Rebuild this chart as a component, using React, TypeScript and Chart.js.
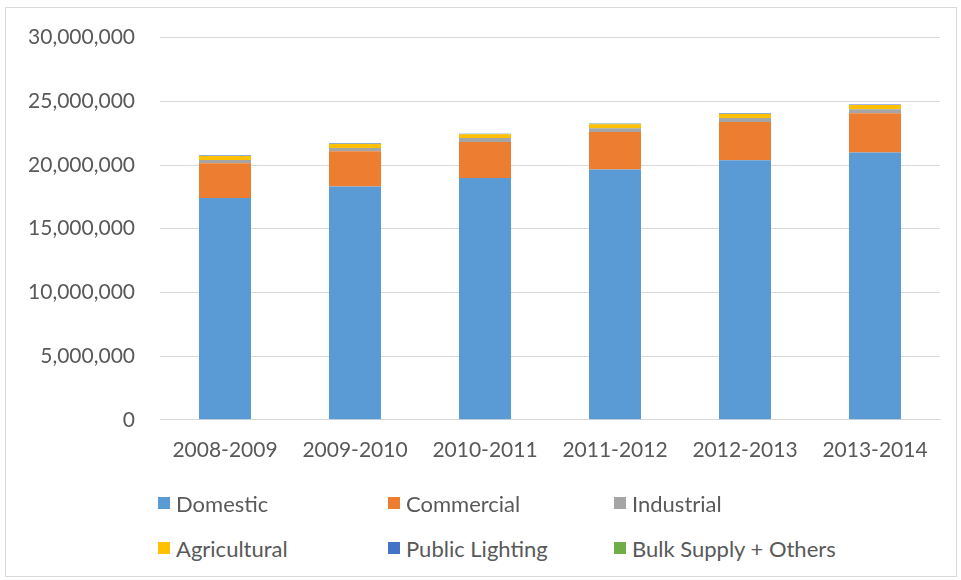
import React, { useEffect, useRef } from "react";
import { Chart, registerables } from "chart.js";

Chart.register(...registerables);

const categories = ["2008-2009", "2009-2010", "2010-2011", "2011-2012", "2012-2013", "2013-2014"];
const domestic = [17410000, 18310000, 18980000, 19640000, 20370000, 20990000];
const commercial = [2720000, 2760000, 2820000, 2950000, 3000000, 3080000];
const industrial = [260000, 260000, 310000, 290000, 310000, 310000];
const agricultural = [320000, 320000, 300000, 320000, 320000, 320000];
const publicLighting = [35000, 35000, 35000, 35000, 40000, 40000];
const bulkSupply = [15000, 15000, 15000, 15000, 15000, 15000];

const seriesNames = ["Domestic", "Commercial", "Industrial", "Agricultural", "Public Lighting", "Bulk Supply + Others"];
const seriesColors = ["#5B9BD5", "#ED7D31", "#A5A5A5", "#FFC000", "#4472C4", "#70AD47"];
const seriesValues = [domestic, commercial, industrial, agricultural, publicLighting, bulkSupply];

const yMin = 0;
const yMax = 30000000;
const yStep = 5000000;

const FONT = "Lato, 'Open Sans', sans-serif";
const TEXT = "#595959";

export default function App() {
  const ref = useRef<HTMLCanvasElement>(null);

  useEffect(() => {
    document.body.style.margin = "0";
    const chart = new Chart(ref.current as HTMLCanvasElement, {
      type: "bar",
      data: {
        labels: categories,
        datasets: seriesNames.map((name, i) => ({
          label: name,
          data: seriesValues[i],
          backgroundColor: seriesColors[i],
          borderWidth: 0,
          barPercentage: 0.4,
          categoryPercentage: 1,
        })),
      },
      options: {
        animation: false,
        responsive: false,
        layout: { padding: { left: 0, right: 21, top: 37, bottom: 19 } },
        plugins: { legend: { display: false }, tooltip: { enabled: false } },
        scales: {
          x: {
            stacked: true,
            grid: { display: false, drawTicks: false },
            border: { display: true, color: "#d9d9d9", width: 1 },
            ticks: { color: TEXT, font: { family: FONT, size: 21 }, padding: 18, maxRotation: 0 },
          },
          y: {
            stacked: true,
            min: yMin,
            max: yMax,
            ticks: {
              stepSize: yStep,
              color: TEXT,
              font: { family: FONT, size: 21 },
              padding: 25,
              callback: (v: any) => Number(v).toLocaleString("en-US"),
            },
            grid: { color: "#d9d9d9", drawTicks: false, lineWidth: 1 },
            border: { display: false },
            afterFit: (s: any) => {
              s.width = 160;
            },
          },
        },
      },
    });
    return () => chart.destroy();
  }, []);

  const colLeft = [158, 388, 614];
  const rowTop = [503, 548];

  return (
    <div style={{ position: "relative", width: 961, height: 580, overflow: "hidden", background: "#fff" }}>
      <div
        style={{
          position: "absolute",
          left: 5,
          top: 7,
          width: 952,
          height: 570,
          border: "1px solid #d9d9d9",
          boxSizing: "border-box",
        }}
      />
      <canvas ref={ref} width={961} height={500} style={{ position: "absolute", left: 0, top: 0 }} />
      {seriesNames.map((name, i) => (
        <div
          key={name}
          style={{
            position: "absolute",
            left: colLeft[i % 3],
            top: rowTop[Math.floor(i / 3)] - 14,
            height: 28,
            display: "flex",
            alignItems: "center",
            fontFamily: FONT,
            fontSize: 22,
            color: TEXT,
            whiteSpace: "nowrap",
          }}
        >
          <span style={{ display: "inline-block", width: 12, height: 12, background: seriesColors[i], marginRight: 6 }} />
          <span>{name}</span>
        </div>
      ))}
    </div>
  );
}
